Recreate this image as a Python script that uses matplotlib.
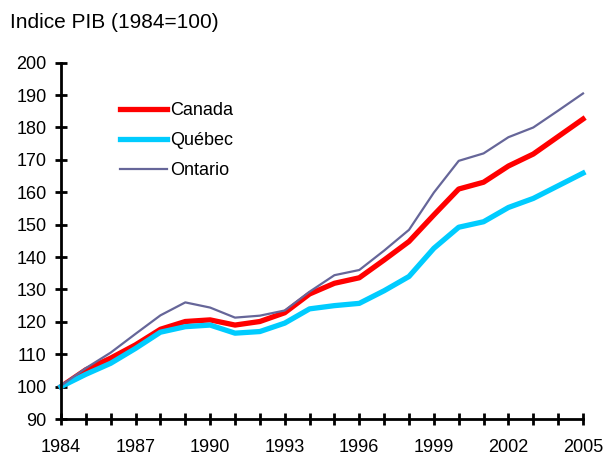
import matplotlib
matplotlib.use("Agg")
import matplotlib.pyplot as plt
from matplotlib.ticker import MultipleLocator

# Indice PIB (1984=100)
annees = list(range(1984, 2006))
canada = [100.0, 105.2, 108.8, 112.9, 117.7, 120.1, 120.6, 119.0, 120.1, 122.8, 128.6,
          131.9, 133.6, 139.1, 144.8, 153.0, 161.0, 163.1, 168.1, 171.8, 177.2, 182.6]
quebec = [100.0, 103.8, 107.2, 111.8, 116.8, 118.5, 119.0, 116.5, 117.0, 119.6, 124.0,
          125.0, 125.7, 129.6, 134.0, 142.7, 149.2, 150.9, 155.3, 158.1, 162.0, 165.9]
ontario = [100.3, 105.7, 110.5, 116.3, 122.0, 126.0, 124.4, 121.3, 121.9, 123.5, 129.3,
           134.4, 136.0, 142.0, 148.4, 159.9, 169.7, 172.0, 177.0, 180.0, 185.2, 190.5]
annees_etiq = list(range(1984, 2006, 3))

plt.rcParams['font.family'] = ['Liberation Sans', 'DejaVu Sans']

fig = plt.figure(figsize=(6.03, 4.55), dpi=100)
ax = fig.add_axes([61/603, 1-419/455, 522/603, (419-62.7)/455])

ax.plot(annees, canada, color='#ff0000', lw=3.8, label='Canada', clip_on=False)
ax.plot(annees, quebec, color='#00ccff', lw=3.8, label='Québec', clip_on=False)
ax.plot(annees, ontario, color='#666699', lw=1.6, label='Ontario', clip_on=False)

ax.set_xlim(1984, 2005)
ax.set_ylim(90, 200)
ax.set_xticks(annees_etiq)
ax.set_xticks(annees, minor=True)
ax.yaxis.set_major_locator(MultipleLocator(10))

for s in ['top', 'right']:
    ax.spines[s].set_visible(False)
for s in ['left', 'bottom']:
    ax.spines[s].set_linewidth(2)
    ax.spines[s].set_color('black')

ax.tick_params(axis='both', which='both', direction='inout', length=9, width=2,
               labelsize=13, colors='black')
ax.tick_params(axis='x', pad=10)
ax.tick_params(axis='y', pad=6)

leg = ax.legend(loc='upper left', bbox_to_anchor=(0.113, 0.89), frameon=False,
                fontsize=13, handlelength=2.6, handletextpad=0.2,
                labelspacing=0.73, borderpad=0, borderaxespad=0)

fig.text(10/603, 1-23/455, 'Indice PIB (1984=100)', fontsize=15, va='center', ha='left')

fig.savefig('out.png', dpi=100, facecolor='white')
